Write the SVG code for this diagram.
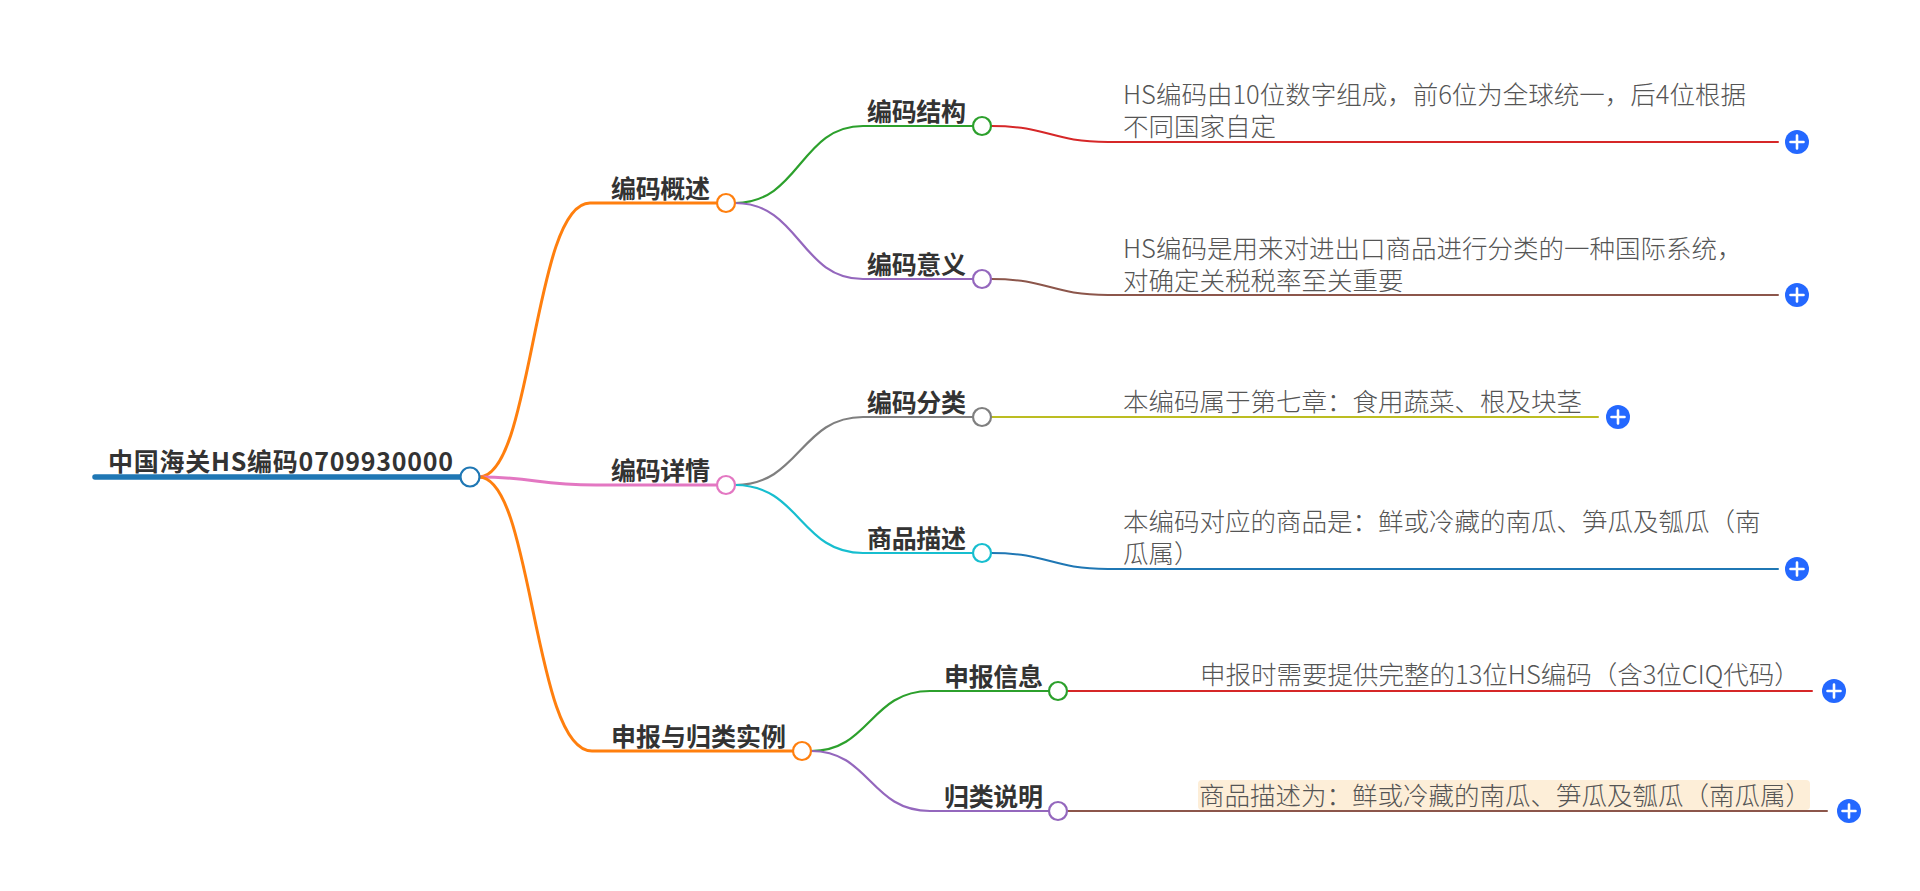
<svg xmlns="http://www.w3.org/2000/svg" width="1920" height="891" viewBox="0 0 1920 891">
<style>
.lbl{font-family:"Noto Sans CJK SC","Noto Sans",sans-serif;font-weight:700;font-size:25px;fill:#333}
.leaf{font-family:"Noto Sans CJK SC","Noto Sans",sans-serif;font-weight:300;font-size:25.5px;fill:#555}
.c{fill:none;stroke-linecap:round}
.dot{fill:#fff;stroke-width:2.2}
.plus circle{fill:#2468ff}
.plus path{stroke:#fff;stroke-width:2.6;stroke-linecap:round}
</style>
<defs>
<g id="plusbtn" class="plus"><circle r="12"/><path d="M-6.5 0H6.5M0 -6.5V6.5"/></g>
</defs>
<rect width="1920" height="891" fill="#fff"/>
<g id="connectors">
<path class="c" d="M95 477H470" stroke="#1f77b4" stroke-width="5.5"/>
<path class="c" d="M479 477C533 477 533 203 590 203H716" stroke="#ff7f0e" stroke-width="3"/>
<path class="c" d="M479 477C536 477 536 485 596 485H716" stroke="#e377c2" stroke-width="3"/>
<path class="c" d="M479 477C533 477 533 751 592 751H793" stroke="#ff7f0e" stroke-width="3"/>
<path class="c" d="M735 203C800 203 800 126 863 126H972" stroke="#2ca02c" stroke-width="2.2"/>
<path class="c" d="M735 203C800 203 800 279 863 279H972" stroke="#9467bd" stroke-width="2.2"/>
<path class="c" d="M735 485C800 485 800 417 863 417H972" stroke="#7f7f7f" stroke-width="2.2"/>
<path class="c" d="M735 485C800 485 800 553 863 553H972" stroke="#17becf" stroke-width="2.2"/>
<path class="c" d="M811 751C870 751 870 691 930 691H1049" stroke="#2ca02c" stroke-width="2.2"/>
<path class="c" d="M811 751C870 751 870 811 930 811H1049" stroke="#9467bd" stroke-width="2.2"/>
<path class="c" d="M991 126C1050 126 1050 142 1108 142H1778" stroke="#d62728" stroke-width="2"/>
<path class="c" d="M991 279C1050 279 1050 295 1108 295H1778" stroke="#8c564b" stroke-width="2"/>
<path class="c" d="M991 417H1598" stroke="#bcbd22" stroke-width="2"/>
<path class="c" d="M991 553C1050 553 1050 569 1108 569H1778" stroke="#1f77b4" stroke-width="2"/>
<path class="c" d="M1068 691H1812" stroke="#d62728" stroke-width="2"/>
<path class="c" d="M1068 811H1827" stroke="#8c564b" stroke-width="2"/>
</g>
<g id="root">
<text class="lbl" x="108" y="471" textLength="345" lengthAdjust="spacing">中国海关HS编码0709930000</text>
<circle class="dot" cx="470" cy="477" r="9.5" stroke="#1f77b4" stroke-width="2.6"/>
</g>
<g id="n-gaishu">
<text class="lbl" x="611" y="198" textLength="99" lengthAdjust="spacing">编码概述</text>
<circle class="dot" cx="726" cy="203" r="9" stroke="#ff7f0e"/>
</g>
<g id="n-xiangqing">
<text class="lbl" x="611" y="480" textLength="99" lengthAdjust="spacing">编码详情</text>
<circle class="dot" cx="726" cy="485" r="9" stroke="#e377c2"/>
</g>
<g id="n-shenbao">
<text class="lbl" x="611" y="746" textLength="175" lengthAdjust="spacing">申报与归类实例</text>
<circle class="dot" cx="802" cy="751" r="9" stroke="#ff7f0e"/>
</g>
<g id="n-jiegou">
<text class="lbl" x="867" y="121" textLength="99" lengthAdjust="spacing">编码结构</text>
<circle class="dot" cx="982" cy="126" r="9" stroke="#2ca02c"/>
</g>
<g id="n-yiyi">
<text class="lbl" x="867" y="274" textLength="99" lengthAdjust="spacing">编码意义</text>
<circle class="dot" cx="982" cy="279" r="9" stroke="#9467bd"/>
</g>
<g id="n-fenlei">
<text class="lbl" x="867" y="412" textLength="99" lengthAdjust="spacing">编码分类</text>
<circle class="dot" cx="982" cy="417" r="9" stroke="#7f7f7f"/>
</g>
<g id="n-miaoshu">
<text class="lbl" x="867" y="548" textLength="99" lengthAdjust="spacing">商品描述</text>
<circle class="dot" cx="982" cy="553" r="9" stroke="#17becf"/>
</g>
<g id="n-xinxi">
<text class="lbl" x="944" y="686" textLength="99" lengthAdjust="spacing">申报信息</text>
<circle class="dot" cx="1058" cy="691" r="9" stroke="#2ca02c"/>
</g>
<g id="n-shuoming">
<text class="lbl" x="944" y="806" textLength="99" lengthAdjust="spacing">归类说明</text>
<circle class="dot" cx="1058" cy="811" r="9" stroke="#9467bd"/>
</g>
<g id="leaf-jiegou">
<text class="leaf" x="1123" y="104">HS编码由10位数字组成，前6位为全球统一，后4位根据<tspan x="1123" dy="32">不同国家自定</tspan></text>
<use href="#plusbtn" x="1797" y="142"/>
</g>
<g id="leaf-yiyi">
<text class="leaf" x="1123" y="258">HS编码是用来对进出口商品进行分类的一种国际系统，<tspan x="1123" dy="32">对确定关税税率至关重要</tspan></text>
<use href="#plusbtn" x="1797" y="295"/>
</g>
<g id="leaf-fenlei">
<text class="leaf" x="1123" y="411">本编码属于第七章：食用蔬菜、根及块茎</text>
<use href="#plusbtn" x="1618" y="417"/>
</g>
<g id="leaf-miaoshu">
<text class="leaf" x="1123" y="531">本编码对应的商品是：鲜或冷藏的南瓜、笋瓜及瓠瓜（南<tspan x="1123" dy="32">瓜属）</tspan></text>
<use href="#plusbtn" x="1797" y="569"/>
</g>
<g id="leaf-xinxi">
<text class="leaf" x="1200" y="684">申报时需要提供完整的13位HS编码（含3位CIQ代码）</text>
<use href="#plusbtn" x="1834" y="691"/>
</g>
<g id="leaf-shuoming">
<rect x="1198" y="780" width="612" height="30" rx="4" fill="#fdeed8"/>
<text class="leaf" x="1199" y="805">商品描述为：鲜或冷藏的南瓜、笋瓜及瓠瓜（南瓜属）</text>
<use href="#plusbtn" x="1849" y="811"/>
</g>
</svg>
